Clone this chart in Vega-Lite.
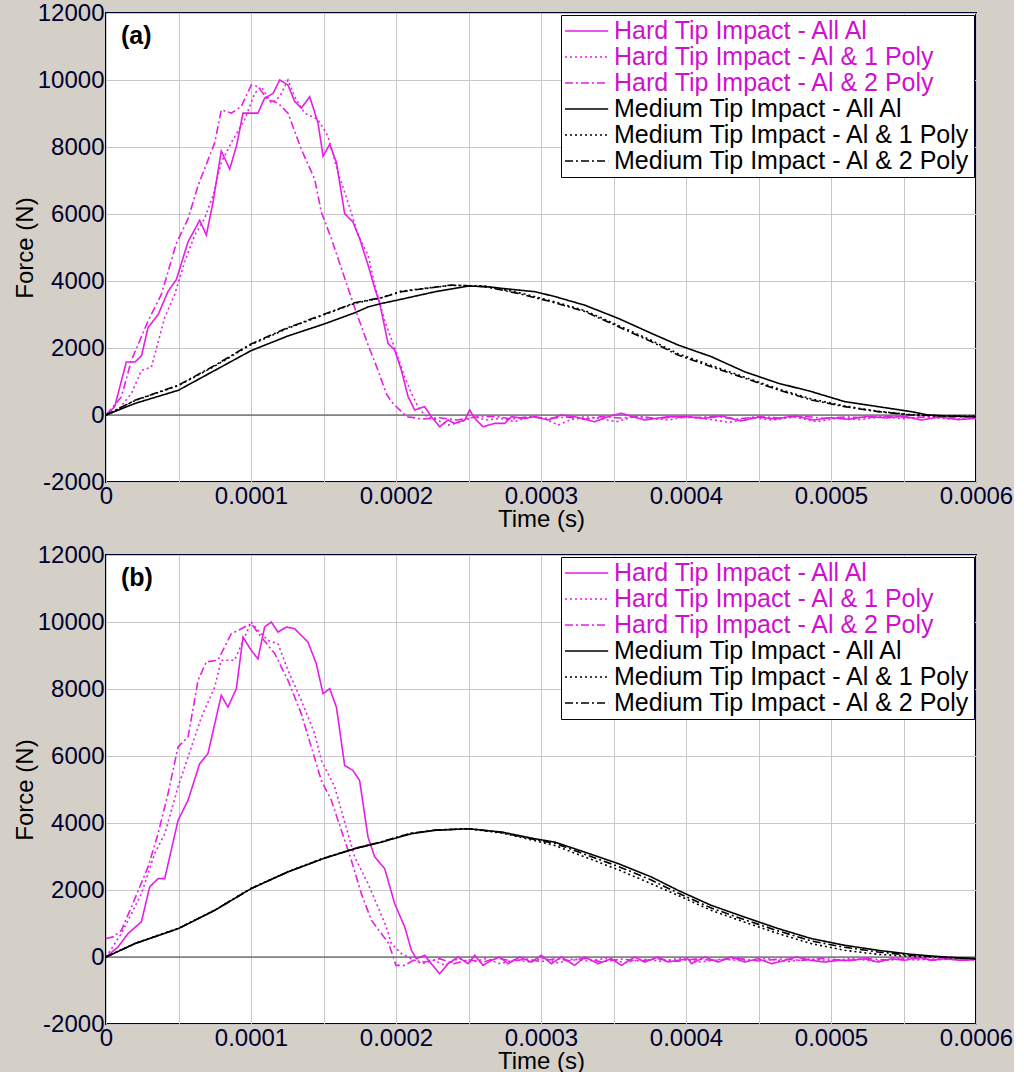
{
"$schema": "https://vega.github.io/schema/vega-lite/v6.json",
"background": "#d4d0c8",
"padding": {"left": 12, "top": 0, "right": 0, "bottom": 0},
"config": {
  "font": "Liberation Sans",
  "view": {"fill": "white", "stroke": "#000030", "strokeWidth": 2},
  "axis": {"labelFontSize": 24, "labelColor": "#000030", "titleFontSize": 24, "titleFontWeight": "normal", "titleColor": "#000000", "ticks": false, "domain": false, "gridColor": "#c8c8c8", "gridWidth": 1, "labelFlush": false, "labelOverlap": false, "labelPadding": 2},
  "legend": {"orient": "top-right", "offset": 2, "title": null, "fillColor": "white", "strokeColor": "#000030", "padding": 3, "symbolType": "M-1,0H2.6", "symbolSize": 576, "symbolStrokeWidth": 1.5, "symbolFillColor": "transparent", "labelFontSize": 25, "labelLimit": 600, "labelOffset": 24, "rowPadding": -1}
},
"datasets": {"d": [
{"p":"a","s":"H1","t":0,"f":0},{"p":"a","s":"H1","t":0.000006,"f":250},{"p":"a","s":"H1","t":0.000014,"f":1580},{"p":"a","s":"H1","t":0.00002,"f":1580},{"p":"a","s":"H1","t":0.0000245,"f":1770},{"p":"a","s":"H1","t":0.000029,"f":2610},{"p":"a","s":"H1","t":0.000036,"f":3000},{"p":"a","s":"H1","t":0.0000428,"f":3690},{"p":"a","s":"H1","t":0.0000485,"f":4040},{"p":"a","s":"H1","t":0.0000566,"f":5170},{"p":"a","s":"H1","t":0.0000646,"f":5810},{"p":"a","s":"H1","t":0.0000692,"f":5370},{"p":"a","s":"H1","t":0.0000738,"f":6350},{"p":"a","s":"H1","t":0.0000795,"f":7880},{"p":"a","s":"H1","t":0.0000853,"f":7340},{"p":"a","s":"H1","t":0.00009,"f":8030},{"p":"a","s":"H1","t":0.0000945,"f":9010},{"p":"a","s":"H1","t":0.0001048,"f":9010},{"p":"a","s":"H1","t":0.0001094,"f":9460},{"p":"a","s":"H1","t":0.0001152,"f":9600},{"p":"a","s":"H1","t":0.0001198,"f":10000},{"p":"a","s":"H1","t":0.0001255,"f":9850},{"p":"a","s":"H1","t":0.0001301,"f":9360},{"p":"a","s":"H1","t":0.0001347,"f":9160},{"p":"a","s":"H1","t":0.0001405,"f":9500},{"p":"a","s":"H1","t":0.0001462,"f":8720},{"p":"a","s":"H1","t":0.0001497,"f":7730},{"p":"a","s":"H1","t":0.0001543,"f":8080},{"p":"a","s":"H1","t":0.0001589,"f":7540},{"p":"a","s":"H1","t":0.0001646,"f":6010},{"p":"a","s":"H1","t":0.0001703,"f":5760},{"p":"a","s":"H1","t":0.0001749,"f":5270},{"p":"a","s":"H1","t":0.0001807,"f":4480},{"p":"a","s":"H1","t":0.0001853,"f":3790},{"p":"a","s":"H1","t":0.0001888,"f":3330},{"p":"a","s":"H1","t":0.0001945,"f":2140},{"p":"a","s":"H1","t":0.0001991,"f":1940},{"p":"a","s":"H1","t":0.0002037,"f":1340},{"p":"a","s":"H1","t":0.0002083,"f":550},{"p":"a","s":"H1","t":0.0002129,"f":150},{"p":"a","s":"H1","t":0.0002198,"f":250},{"p":"a","s":"H1","t":0.0002244,"f":-50},{"p":"a","s":"H1","t":0.0002301,"f":-350},{"p":"a","s":"H1","t":0.0002359,"f":-150},{"p":"a","s":"H1","t":0.0002405,"f":-250},{"p":"a","s":"H1","t":0.0002474,"f":-150},{"p":"a","s":"H1","t":0.0002508,"f":150},{"p":"a","s":"H1","t":0.0002543,"f":-100},{"p":"a","s":"H1","t":0.00026,"f":-350},{"p":"a","s":"H1","t":0.0002681,"f":-250},{"p":"a","s":"H1","t":0.000275,"f":-250},{"p":"a","s":"H1","t":0.0002795,"f":-50},{"p":"a","s":"H1","t":0.0002888,"f":-100},{"p":"a","s":"H1","t":0.0002957,"f":-50},{"p":"a","s":"H1","t":0.0003048,"f":-150},{"p":"a","s":"H1","t":0.000314,"f":0},{"p":"a","s":"H1","t":0.0003232,"f":-50},{"p":"a","s":"H1","t":0.000337,"f":-200},{"p":"a","s":"H1","t":0.0003462,"f":-50},{"p":"a","s":"H1","t":0.0003554,"f":50},{"p":"a","s":"H1","t":0.0003715,"f":-150},{"p":"a","s":"H1","t":0.0003876,"f":-50},{"p":"a","s":"H1","t":0.0004014,"f":-50},{"p":"a","s":"H1","t":0.000412,"f":-100},{"p":"a","s":"H1","t":0.000425,"f":-30},{"p":"a","s":"H1","t":0.000438,"f":-180},{"p":"a","s":"H1","t":0.00045,"f":-60},{"p":"a","s":"H1","t":0.000462,"f":-120},{"p":"a","s":"H1","t":0.000475,"f":-20},{"p":"a","s":"H1","t":0.000488,"f":-150},{"p":"a","s":"H1","t":0.0005,"f":-80},{"p":"a","s":"H1","t":0.000512,"f":-130},{"p":"a","s":"H1","t":0.000525,"f":-40},{"p":"a","s":"H1","t":0.000538,"f":-90},{"p":"a","s":"H1","t":0.00055,"f":-30},{"p":"a","s":"H1","t":0.000562,"f":-150},{"p":"a","s":"H1","t":0.000575,"f":-60},{"p":"a","s":"H1","t":0.000588,"f":-140},{"p":"a","s":"H1","t":0.0006,"f":-100},
{"p":"a","s":"H2","t":0,"f":0},{"p":"a","s":"H2","t":0.0000083,"f":150},{"p":"a","s":"H2","t":0.0000175,"f":640},{"p":"a","s":"H2","t":0.0000244,"f":1330},{"p":"a","s":"H2","t":0.0000313,"f":1430},{"p":"a","s":"H2","t":0.0000405,"f":2910},{"p":"a","s":"H2","t":0.0000474,"f":3600},{"p":"a","s":"H2","t":0.0000543,"f":4580},{"p":"a","s":"H2","t":0.0000612,"f":5370},{"p":"a","s":"H2","t":0.000068,"f":5860},{"p":"a","s":"H2","t":0.0000738,"f":6550},{"p":"a","s":"H2","t":0.0000795,"f":7540},{"p":"a","s":"H2","t":0.0000864,"f":8130},{"p":"a","s":"H2","t":0.0000956,"f":8820},{"p":"a","s":"H2","t":0.0001025,"f":9600},{"p":"a","s":"H2","t":0.0001071,"f":9800},{"p":"a","s":"H2","t":0.000114,"f":9310},{"p":"a","s":"H2","t":0.0001198,"f":9500},{"p":"a","s":"H2","t":0.0001255,"f":10000},{"p":"a","s":"H2","t":0.0001301,"f":9500},{"p":"a","s":"H2","t":0.000137,"f":9010},{"p":"a","s":"H2","t":0.0001462,"f":8820},{"p":"a","s":"H2","t":0.0001531,"f":8320},{"p":"a","s":"H2","t":0.00016,"f":7240},{"p":"a","s":"H2","t":0.0001669,"f":6350},{"p":"a","s":"H2","t":0.0001738,"f":5370},{"p":"a","s":"H2","t":0.0001807,"f":4780},{"p":"a","s":"H2","t":0.0001853,"f":3890},{"p":"a","s":"H2","t":0.0001922,"f":2810},{"p":"a","s":"H2","t":0.0001991,"f":2000},{"p":"a","s":"H2","t":0.000206,"f":1140},{"p":"a","s":"H2","t":0.0002106,"f":650},{"p":"a","s":"H2","t":0.0002152,"f":250},{"p":"a","s":"H2","t":0.0002198,"f":0},{"p":"a","s":"H2","t":0.000228,"f":-150},{"p":"a","s":"H2","t":0.000236,"f":-300},{"p":"a","s":"H2","t":0.000245,"f":-200},{"p":"a","s":"H2","t":0.000254,"f":-50},{"p":"a","s":"H2","t":0.000262,"f":-150},{"p":"a","s":"H2","t":0.000272,"f":-100},{"p":"a","s":"H2","t":0.000282,"f":-200},{"p":"a","s":"H2","t":0.000292,"f":-50},{"p":"a","s":"H2","t":0.000302,"f":-100},{"p":"a","s":"H2","t":0.000312,"f":-300},{"p":"a","s":"H2","t":0.00032,"f":-150},{"p":"a","s":"H2","t":0.00033,"f":-50},{"p":"a","s":"H2","t":0.00034,"f":-100},{"p":"a","s":"H2","t":0.000352,"f":-200},{"p":"a","s":"H2","t":0.000364,"f":-50},{"p":"a","s":"H2","t":0.000376,"f":-100},{"p":"a","s":"H2","t":0.000388,"f":-150},{"p":"a","s":"H2","t":0.0004,"f":-50},{"p":"a","s":"H2","t":0.000415,"f":-120},{"p":"a","s":"H2","t":0.00043,"f":-220},{"p":"a","s":"H2","t":0.000445,"f":-80},{"p":"a","s":"H2","t":0.00046,"f":-150},{"p":"a","s":"H2","t":0.000475,"f":-60},{"p":"a","s":"H2","t":0.00049,"f":-200},{"p":"a","s":"H2","t":0.000505,"f":-90},{"p":"a","s":"H2","t":0.00052,"f":-140},{"p":"a","s":"H2","t":0.000535,"f":-50},{"p":"a","s":"H2","t":0.00055,"f":-110},{"p":"a","s":"H2","t":0.000565,"f":-40},{"p":"a","s":"H2","t":0.00058,"f":-120},{"p":"a","s":"H2","t":0.0006,"f":-80},
{"p":"a","s":"H3","t":0,"f":0},{"p":"a","s":"H3","t":0.0000106,"f":540},{"p":"a","s":"H3","t":0.0000175,"f":1630},{"p":"a","s":"H3","t":0.000029,"f":2810},{"p":"a","s":"H3","t":0.0000382,"f":3600},{"p":"a","s":"H3","t":0.0000485,"f":5120},{"p":"a","s":"H3","t":0.0000566,"f":5860},{"p":"a","s":"H3","t":0.0000635,"f":6850},{"p":"a","s":"H3","t":0.000075,"f":8130},{"p":"a","s":"H3","t":0.0000795,"f":9110},{"p":"a","s":"H3","t":0.0000864,"f":9010},{"p":"a","s":"H3","t":0.0000933,"f":9210},{"p":"a","s":"H3","t":0.0001002,"f":9850},{"p":"a","s":"H3","t":0.0001048,"f":9800},{"p":"a","s":"H3","t":0.0001117,"f":9410},{"p":"a","s":"H3","t":0.0001186,"f":9310},{"p":"a","s":"H3","t":0.0001255,"f":9010},{"p":"a","s":"H3","t":0.0001347,"f":7930},{"p":"a","s":"H3","t":0.0001439,"f":7040},{"p":"a","s":"H3","t":0.0001485,"f":6060},{"p":"a","s":"H3","t":0.0001554,"f":5270},{"p":"a","s":"H3","t":0.0001623,"f":4380},{"p":"a","s":"H3","t":0.0001669,"f":3790},{"p":"a","s":"H3","t":0.0001715,"f":3200},{"p":"a","s":"H3","t":0.0001807,"f":2100},{"p":"a","s":"H3","t":0.0001876,"f":1330},{"p":"a","s":"H3","t":0.0001933,"f":640},{"p":"a","s":"H3","t":0.0001968,"f":400},{"p":"a","s":"H3","t":0.0002037,"f":100},{"p":"a","s":"H3","t":0.000208,"f":-50},{"p":"a","s":"H3","t":0.000218,"f":-120},{"p":"a","s":"H3","t":0.00023,"f":-80},{"p":"a","s":"H3","t":0.000242,"f":-150},{"p":"a","s":"H3","t":0.000255,"f":-60},{"p":"a","s":"H3","t":0.000268,"f":-40},{"p":"a","s":"H3","t":0.00028,"f":-120},{"p":"a","s":"H3","t":0.000292,"f":-50},{"p":"a","s":"H3","t":0.000305,"f":-100},{"p":"a","s":"H3","t":0.000318,"f":-60},{"p":"a","s":"H3","t":0.00033,"f":-130},{"p":"a","s":"H3","t":0.000342,"f":-50},{"p":"a","s":"H3","t":0.000355,"f":-90},{"p":"a","s":"H3","t":0.000368,"f":-40},{"p":"a","s":"H3","t":0.00038,"f":-110},{"p":"a","s":"H3","t":0.000392,"f":-60},{"p":"a","s":"H3","t":0.000405,"f":-80},{"p":"a","s":"H3","t":0.00042,"f":-40},{"p":"a","s":"H3","t":0.000435,"f":-120},{"p":"a","s":"H3","t":0.00045,"f":-50},{"p":"a","s":"H3","t":0.000465,"f":-90},{"p":"a","s":"H3","t":0.00048,"f":-30},{"p":"a","s":"H3","t":0.000495,"f":-100},{"p":"a","s":"H3","t":0.00051,"f":-60},{"p":"a","s":"H3","t":0.000525,"f":-80},{"p":"a","s":"H3","t":0.00054,"f":-30},{"p":"a","s":"H3","t":0.000555,"f":-90},{"p":"a","s":"H3","t":0.00057,"f":-50},{"p":"a","s":"H3","t":0.000585,"f":-70},{"p":"a","s":"H3","t":0.0006,"f":-60},
{"p":"a","s":"M1","t":0,"f":0},{"p":"a","s":"M1","t":0.00002,"f":345},{"p":"a","s":"M1","t":0.00005,"f":740},{"p":"a","s":"M1","t":0.000075,"f":1330},{"p":"a","s":"M1","t":0.0001,"f":1920},{"p":"a","s":"M1","t":0.0001255,"f":2360},{"p":"a","s":"M1","t":0.00015,"f":2710},{"p":"a","s":"M1","t":0.0001715,"f":3050},{"p":"a","s":"M1","t":0.000181,"f":3230},{"p":"a","s":"M1","t":0.00019,"f":3330},{"p":"a","s":"M1","t":0.0002,"f":3420},{"p":"a","s":"M1","t":0.000227,"f":3680},{"p":"a","s":"M1","t":0.00025,"f":3850},{"p":"a","s":"M1","t":0.000263,"f":3830},{"p":"a","s":"M1","t":0.000273,"f":3780},{"p":"a","s":"M1","t":0.000296,"f":3680},{"p":"a","s":"M1","t":0.00031,"f":3530},{"p":"a","s":"M1","t":0.00033,"f":3280},{"p":"a","s":"M1","t":0.000353,"f":2890},{"p":"a","s":"M1","t":0.000376,"f":2440},{"p":"a","s":"M1","t":0.0003945,"f":2090},{"p":"a","s":"M1","t":0.0004175,"f":1740},{"p":"a","s":"M1","t":0.0004405,"f":1290},{"p":"a","s":"M1","t":0.0004635,"f":950},{"p":"a","s":"M1","t":0.0004864,"f":700},{"p":"a","s":"M1","t":0.0005094,"f":400},{"p":"a","s":"M1","t":0.0005324,"f":250},{"p":"a","s":"M1","t":0.0005554,"f":100},{"p":"a","s":"M1","t":0.000567,"f":0},{"p":"a","s":"M1","t":0.00058,"f":-30},{"p":"a","s":"M1","t":0.0006,"f":-50},
{"p":"a","s":"M2","t":0,"f":0},{"p":"a","s":"M2","t":0.00002,"f":430},{"p":"a","s":"M2","t":0.00005,"f":880},{"p":"a","s":"M2","t":0.000075,"f":1460},{"p":"a","s":"M2","t":0.0001,"f":2100},{"p":"a","s":"M2","t":0.0001255,"f":2590},{"p":"a","s":"M2","t":0.00015,"f":2990},{"p":"a","s":"M2","t":0.0001715,"f":3330},{"p":"a","s":"M2","t":0.00019,"f":3500},{"p":"a","s":"M2","t":0.0002037,"f":3700},{"p":"a","s":"M2","t":0.000238,"f":3870},{"p":"a","s":"M2","t":0.000261,"f":3850},{"p":"a","s":"M2","t":0.000284,"f":3660},{"p":"a","s":"M2","t":0.000307,"f":3410},{"p":"a","s":"M2","t":0.00033,"f":3120},{"p":"a","s":"M2","t":0.000353,"f":2680},{"p":"a","s":"M2","t":0.000376,"f":2230},{"p":"a","s":"M2","t":0.0003945,"f":1830},{"p":"a","s":"M2","t":0.0004175,"f":1480},{"p":"a","s":"M2","t":0.0004405,"f":1130},{"p":"a","s":"M2","t":0.0004635,"f":780},{"p":"a","s":"M2","t":0.0004864,"f":480},{"p":"a","s":"M2","t":0.0005094,"f":270},{"p":"a","s":"M2","t":0.0005324,"f":110},{"p":"a","s":"M2","t":0.0005554,"f":10},{"p":"a","s":"M2","t":0.00058,"f":-30},{"p":"a","s":"M2","t":0.0006,"f":-40},
{"p":"a","s":"M3","t":0,"f":0},{"p":"a","s":"M3","t":0.00002,"f":440},{"p":"a","s":"M3","t":0.00005,"f":890},{"p":"a","s":"M3","t":0.000075,"f":1480},{"p":"a","s":"M3","t":0.0001,"f":2120},{"p":"a","s":"M3","t":0.0001255,"f":2610},{"p":"a","s":"M3","t":0.00015,"f":3000},{"p":"a","s":"M3","t":0.0001715,"f":3350},{"p":"a","s":"M3","t":0.000181,"f":3430},{"p":"a","s":"M3","t":0.00019,"f":3500},{"p":"a","s":"M3","t":0.0002037,"f":3680},{"p":"a","s":"M3","t":0.0002382,"f":3880},{"p":"a","s":"M3","t":0.0002612,"f":3830},{"p":"a","s":"M3","t":0.0002842,"f":3630},{"p":"a","s":"M3","t":0.0003071,"f":3380},{"p":"a","s":"M3","t":0.0003302,"f":3090},{"p":"a","s":"M3","t":0.0003531,"f":2640},{"p":"a","s":"M3","t":0.0003761,"f":2190},{"p":"a","s":"M3","t":0.0003945,"f":1790},{"p":"a","s":"M3","t":0.0004175,"f":1440},{"p":"a","s":"M3","t":0.0004405,"f":1100},{"p":"a","s":"M3","t":0.0004635,"f":750},{"p":"a","s":"M3","t":0.0004864,"f":450},{"p":"a","s":"M3","t":0.0005094,"f":250},{"p":"a","s":"M3","t":0.0005324,"f":100},{"p":"a","s":"M3","t":0.0005554,"f":0},{"p":"a","s":"M3","t":0.00058,"f":-30},{"p":"a","s":"M3","t":0.0006,"f":-40},
{"p":"b","s":"H1","t":0,"f":0},{"p":"b","s":"H1","t":0.0000083,"f":300},{"p":"b","s":"H1","t":0.0000152,"f":700},{"p":"b","s":"H1","t":0.0000244,"f":1050},{"p":"b","s":"H1","t":0.0000301,"f":2090},{"p":"b","s":"H1","t":0.0000359,"f":2340},{"p":"b","s":"H1","t":0.0000405,"f":2340},{"p":"b","s":"H1","t":0.0000497,"f":4080},{"p":"b","s":"H1","t":0.0000566,"f":4680},{"p":"b","s":"H1","t":0.0000646,"f":5770},{"p":"b","s":"H1","t":0.0000703,"f":6070},{"p":"b","s":"H1","t":0.0000795,"f":7810},{"p":"b","s":"H1","t":0.0000841,"f":7460},{"p":"b","s":"H1","t":0.0000899,"f":8010},{"p":"b","s":"H1","t":0.0000945,"f":9550},{"p":"b","s":"H1","t":0.0001002,"f":9150},{"p":"b","s":"H1","t":0.0001048,"f":8900},{"p":"b","s":"H1","t":0.0001094,"f":9850},{"p":"b","s":"H1","t":0.000114,"f":10000},{"p":"b","s":"H1","t":0.0001186,"f":9700},{"p":"b","s":"H1","t":0.0001244,"f":9850},{"p":"b","s":"H1","t":0.0001301,"f":9800},{"p":"b","s":"H1","t":0.0001393,"f":9400},{"p":"b","s":"H1","t":0.000145,"f":8760},{"p":"b","s":"H1","t":0.0001497,"f":7860},{"p":"b","s":"H1","t":0.0001543,"f":8010},{"p":"b","s":"H1","t":0.0001589,"f":7460},{"p":"b","s":"H1","t":0.0001646,"f":5720},{"p":"b","s":"H1","t":0.0001703,"f":5570},{"p":"b","s":"H1","t":0.0001749,"f":5270},{"p":"b","s":"H1","t":0.0001807,"f":3580},{"p":"b","s":"H1","t":0.0001853,"f":2990},{"p":"b","s":"H1","t":0.0001922,"f":2640},{"p":"b","s":"H1","t":0.0001991,"f":1590},{"p":"b","s":"H1","t":0.000206,"f":900},{"p":"b","s":"H1","t":0.0002106,"f":200},{"p":"b","s":"H1","t":0.000214,"f":-50},{"p":"b","s":"H1","t":0.0002198,"f":50},{"p":"b","s":"H1","t":0.0002244,"f":-200},{"p":"b","s":"H1","t":0.0002301,"f":-500},{"p":"b","s":"H1","t":0.0002359,"f":-200},{"p":"b","s":"H1","t":0.0002428,"f":0},{"p":"b","s":"H1","t":0.0002497,"f":-200},{"p":"b","s":"H1","t":0.0002543,"f":50},{"p":"b","s":"H1","t":0.00026,"f":-250},{"p":"b","s":"H1","t":0.0002658,"f":-100},{"p":"b","s":"H1","t":0.0002715,"f":0},{"p":"b","s":"H1","t":0.0002773,"f":-200},{"p":"b","s":"H1","t":0.0002853,"f":0},{"p":"b","s":"H1","t":0.0002933,"f":-150},{"p":"b","s":"H1","t":0.0003002,"f":50},{"p":"b","s":"H1","t":0.0003071,"f":-200},{"p":"b","s":"H1","t":0.000314,"f":0},{"p":"b","s":"H1","t":0.0003232,"f":-250},{"p":"b","s":"H1","t":0.0003301,"f":0},{"p":"b","s":"H1","t":0.0003393,"f":-200},{"p":"b","s":"H1","t":0.0003485,"f":-50},{"p":"b","s":"H1","t":0.0003554,"f":-250},{"p":"b","s":"H1","t":0.0003646,"f":0},{"p":"b","s":"H1","t":0.0003715,"f":-150},{"p":"b","s":"H1","t":0.0003807,"f":0},{"p":"b","s":"H1","t":0.0003876,"f":-150},{"p":"b","s":"H1","t":0.0004014,"f":-50},{"p":"b","s":"H1","t":0.0004037,"f":-200},{"p":"b","s":"H1","t":0.0004129,"f":0},{"p":"b","s":"H1","t":0.0004221,"f":-150},{"p":"b","s":"H1","t":0.0004313,"f":0},{"p":"b","s":"H1","t":0.0004405,"f":-150},{"p":"b","s":"H1","t":0.0004497,"f":-50},{"p":"b","s":"H1","t":0.0004589,"f":-200},{"p":"b","s":"H1","t":0.0004681,"f":-100},{"p":"b","s":"H1","t":0.0004761,"f":0},{"p":"b","s":"H1","t":0.0004864,"f":-100},{"p":"b","s":"H1","t":0.0004957,"f":-150},{"p":"b","s":"H1","t":0.0005049,"f":-100},{"p":"b","s":"H1","t":0.000514,"f":-100},{"p":"b","s":"H1","t":0.0005232,"f":-50},{"p":"b","s":"H1","t":0.0005324,"f":-150},{"p":"b","s":"H1","t":0.0005416,"f":-50},{"p":"b","s":"H1","t":0.0005508,"f":-100},{"p":"b","s":"H1","t":0.00056,"f":0},{"p":"b","s":"H1","t":0.0005692,"f":-100},{"p":"b","s":"H1","t":0.0005784,"f":-50},{"p":"b","s":"H1","t":0.0005899,"f":-100},{"p":"b","s":"H1","t":0.0006,"f":-80},
{"p":"b","s":"H2","t":0,"f":0},{"p":"b","s":"H2","t":0.0000106,"f":700},{"p":"b","s":"H2","t":0.0000175,"f":1290},{"p":"b","s":"H2","t":0.0000244,"f":1890},{"p":"b","s":"H2","t":0.0000336,"f":3090},{"p":"b","s":"H2","t":0.0000405,"f":3680},{"p":"b","s":"H2","t":0.0000497,"f":5080},{"p":"b","s":"H2","t":0.0000566,"f":5970},{"p":"b","s":"H2","t":0.0000658,"f":7160},{"p":"b","s":"H2","t":0.000075,"f":8060},{"p":"b","s":"H2","t":0.0000795,"f":8860},{"p":"b","s":"H2","t":0.0000887,"f":8860},{"p":"b","s":"H2","t":0.0000956,"f":9550},{"p":"b","s":"H2","t":0.0001002,"f":10000},{"p":"b","s":"H2","t":0.0001048,"f":9750},{"p":"b","s":"H2","t":0.0001117,"f":9450},{"p":"b","s":"H2","t":0.0001186,"f":9350},{"p":"b","s":"H2","t":0.0001255,"f":8560},{"p":"b","s":"H2","t":0.0001347,"f":7660},{"p":"b","s":"H2","t":0.0001439,"f":6670},{"p":"b","s":"H2","t":0.0001485,"f":5870},{"p":"b","s":"H2","t":0.0001577,"f":5080},{"p":"b","s":"H2","t":0.0001669,"f":3680},{"p":"b","s":"H2","t":0.0001715,"f":2990},{"p":"b","s":"H2","t":0.0001807,"f":2190},{"p":"b","s":"H2","t":0.0001876,"f":1490},{"p":"b","s":"H2","t":0.0001933,"f":900},{"p":"b","s":"H2","t":0.0001968,"f":400},{"p":"b","s":"H2","t":0.0002037,"f":100},{"p":"b","s":"H2","t":0.0002106,"f":-50},{"p":"b","s":"H2","t":0.000218,"f":-200},{"p":"b","s":"H2","t":0.000226,"f":-100},{"p":"b","s":"H2","t":0.000234,"f":-250},{"p":"b","s":"H2","t":0.000243,"f":-50},{"p":"b","s":"H2","t":0.000252,"f":-150},{"p":"b","s":"H2","t":0.000262,"f":-50},{"p":"b","s":"H2","t":0.000272,"f":-200},{"p":"b","s":"H2","t":0.000282,"f":-80},{"p":"b","s":"H2","t":0.000292,"f":-150},{"p":"b","s":"H2","t":0.000302,"f":-30},{"p":"b","s":"H2","t":0.000312,"f":-180},{"p":"b","s":"H2","t":0.000322,"f":-60},{"p":"b","s":"H2","t":0.000332,"f":-120},{"p":"b","s":"H2","t":0.000345,"f":-40},{"p":"b","s":"H2","t":0.000358,"f":-170},{"p":"b","s":"H2","t":0.00037,"f":-60},{"p":"b","s":"H2","t":0.000383,"f":-130},{"p":"b","s":"H2","t":0.000396,"f":-40},{"p":"b","s":"H2","t":0.00041,"f":-150},{"p":"b","s":"H2","t":0.000425,"f":-60},{"p":"b","s":"H2","t":0.00044,"f":-120},{"p":"b","s":"H2","t":0.000455,"f":-40},{"p":"b","s":"H2","t":0.00047,"f":-140},{"p":"b","s":"H2","t":0.000485,"f":-60},{"p":"b","s":"H2","t":0.0005,"f":-110},{"p":"b","s":"H2","t":0.000515,"f":-40},{"p":"b","s":"H2","t":0.00053,"f":-130},{"p":"b","s":"H2","t":0.000545,"f":-60},{"p":"b","s":"H2","t":0.00056,"f":-90},{"p":"b","s":"H2","t":0.000575,"f":-40},{"p":"b","s":"H2","t":0.00059,"f":-100},{"p":"b","s":"H2","t":0.0006,"f":-70},
{"p":"b","s":"H3","t":0,"f":550},{"p":"b","s":"H3","t":0.0000048,"f":600},{"p":"b","s":"H3","t":0.0000106,"f":800},{"p":"b","s":"H3","t":0.0000175,"f":1490},{"p":"b","s":"H3","t":0.000029,"f":2690},{"p":"b","s":"H3","t":0.0000359,"f":3680},{"p":"b","s":"H3","t":0.0000428,"f":4880},{"p":"b","s":"H3","t":0.0000497,"f":6270},{"p":"b","s":"H3","t":0.0000566,"f":6570},{"p":"b","s":"H3","t":0.0000635,"f":8260},{"p":"b","s":"H3","t":0.0000692,"f":8810},{"p":"b","s":"H3","t":0.0000772,"f":8860},{"p":"b","s":"H3","t":0.0000864,"f":9650},{"p":"b","s":"H3","t":0.0000933,"f":9800},{"p":"b","s":"H3","t":0.0001002,"f":9950},{"p":"b","s":"H3","t":0.0001071,"f":9550},{"p":"b","s":"H3","t":0.0001163,"f":9060},{"p":"b","s":"H3","t":0.0001255,"f":8260},{"p":"b","s":"H3","t":0.0001347,"f":7260},{"p":"b","s":"H3","t":0.0001416,"f":6270},{"p":"b","s":"H3","t":0.0001485,"f":5270},{"p":"b","s":"H3","t":0.0001554,"f":4680},{"p":"b","s":"H3","t":0.0001623,"f":3780},{"p":"b","s":"H3","t":0.0001692,"f":2890},{"p":"b","s":"H3","t":0.0001761,"f":1890},{"p":"b","s":"H3","t":0.000183,"f":1100},{"p":"b","s":"H3","t":0.0001899,"f":700},{"p":"b","s":"H3","t":0.000195,"f":400},{"p":"b","s":"H3","t":0.0002,"f":-250},{"p":"b","s":"H3","t":0.000206,"f":-250},{"p":"b","s":"H3","t":0.000212,"f":-100},{"p":"b","s":"H3","t":0.00022,"f":-150},{"p":"b","s":"H3","t":0.00023,"f":-50},{"p":"b","s":"H3","t":0.00024,"f":-200},{"p":"b","s":"H3","t":0.00025,"f":-80},{"p":"b","s":"H3","t":0.00026,"f":-150},{"p":"b","s":"H3","t":0.00027,"f":-30},{"p":"b","s":"H3","t":0.00028,"f":-130},{"p":"b","s":"H3","t":0.00029,"f":-60},{"p":"b","s":"H3","t":0.0003,"f":-140},{"p":"b","s":"H3","t":0.00031,"f":-50},{"p":"b","s":"H3","t":0.00032,"f":-110},{"p":"b","s":"H3","t":0.00033,"f":-40},{"p":"b","s":"H3","t":0.000342,"f":-150},{"p":"b","s":"H3","t":0.000355,"f":-60},{"p":"b","s":"H3","t":0.000368,"f":-120},{"p":"b","s":"H3","t":0.00038,"f":-50},{"p":"b","s":"H3","t":0.000393,"f":-130},{"p":"b","s":"H3","t":0.000406,"f":-60},{"p":"b","s":"H3","t":0.00042,"f":-100},{"p":"b","s":"H3","t":0.000435,"f":-40},{"p":"b","s":"H3","t":0.00045,"f":-120},{"p":"b","s":"H3","t":0.000465,"f":-60},{"p":"b","s":"H3","t":0.00048,"f":-100},{"p":"b","s":"H3","t":0.000495,"f":-40},{"p":"b","s":"H3","t":0.00051,"f":-110},{"p":"b","s":"H3","t":0.000525,"f":-50},{"p":"b","s":"H3","t":0.00054,"f":-90},{"p":"b","s":"H3","t":0.000555,"f":-40},{"p":"b","s":"H3","t":0.00057,"f":-90},{"p":"b","s":"H3","t":0.000585,"f":-60},{"p":"b","s":"H3","t":0.0006,"f":-70},
{"p":"b","s":"M1","t":0,"f":0},{"p":"b","s":"M1","t":0.00002,"f":400},{"p":"b","s":"M1","t":0.00005,"f":850},{"p":"b","s":"M1","t":0.000075,"f":1390},{"p":"b","s":"M1","t":0.0001,"f":2040},{"p":"b","s":"M1","t":0.0001255,"f":2540},{"p":"b","s":"M1","t":0.00015,"f":2940},{"p":"b","s":"M1","t":0.0001715,"f":3230},{"p":"b","s":"M1","t":0.00019,"f":3430},{"p":"b","s":"M1","t":0.0002106,"f":3680},{"p":"b","s":"M1","t":0.0002267,"f":3780},{"p":"b","s":"M1","t":0.0002497,"f":3830},{"p":"b","s":"M1","t":0.0002727,"f":3730},{"p":"b","s":"M1","t":0.0002957,"f":3530},{"p":"b","s":"M1","t":0.0003095,"f":3430},{"p":"b","s":"M1","t":0.0003302,"f":3130},{"p":"b","s":"M1","t":0.0003531,"f":2790},{"p":"b","s":"M1","t":0.0003761,"f":2390},{"p":"b","s":"M1","t":0.0003945,"f":1990},{"p":"b","s":"M1","t":0.0004175,"f":1540},{"p":"b","s":"M1","t":0.0004405,"f":1190},{"p":"b","s":"M1","t":0.0004635,"f":850},{"p":"b","s":"M1","t":0.0004864,"f":550},{"p":"b","s":"M1","t":0.0005094,"f":350},{"p":"b","s":"M1","t":0.0005324,"f":200},{"p":"b","s":"M1","t":0.0005554,"f":80},{"p":"b","s":"M1","t":0.000578,"f":0},{"p":"b","s":"M1","t":0.0006,"f":-50},
{"p":"b","s":"M2","t":0,"f":0},{"p":"b","s":"M2","t":0.00002,"f":410},{"p":"b","s":"M2","t":0.00005,"f":860},{"p":"b","s":"M2","t":0.000075,"f":1400},{"p":"b","s":"M2","t":0.0001,"f":2050},{"p":"b","s":"M2","t":0.0001255,"f":2550},{"p":"b","s":"M2","t":0.00015,"f":2950},{"p":"b","s":"M2","t":0.0001715,"f":3240},{"p":"b","s":"M2","t":0.00019,"f":3440},{"p":"b","s":"M2","t":0.00021,"f":3690},{"p":"b","s":"M2","t":0.000227,"f":3790},{"p":"b","s":"M2","t":0.00025,"f":3830},{"p":"b","s":"M2","t":0.000273,"f":3700},{"p":"b","s":"M2","t":0.000296,"f":3470},{"p":"b","s":"M2","t":0.00031,"f":3320},{"p":"b","s":"M2","t":0.00033,"f":2990},{"p":"b","s":"M2","t":0.000353,"f":2610},{"p":"b","s":"M2","t":0.000376,"f":2190},{"p":"b","s":"M2","t":0.0003945,"f":1840},{"p":"b","s":"M2","t":0.0004175,"f":1390},{"p":"b","s":"M2","t":0.0004405,"f":1040},{"p":"b","s":"M2","t":0.0004635,"f":700},{"p":"b","s":"M2","t":0.0004864,"f":400},{"p":"b","s":"M2","t":0.0005094,"f":200},{"p":"b","s":"M2","t":0.0005324,"f":80},{"p":"b","s":"M2","t":0.0005554,"f":20},{"p":"b","s":"M2","t":0.00058,"f":-20},{"p":"b","s":"M2","t":0.0006,"f":-50},
{"p":"b","s":"M3","t":0,"f":0},{"p":"b","s":"M3","t":0.00002,"f":400},{"p":"b","s":"M3","t":0.00005,"f":850},{"p":"b","s":"M3","t":0.000075,"f":1400},{"p":"b","s":"M3","t":0.0001,"f":2040},{"p":"b","s":"M3","t":0.0001255,"f":2540},{"p":"b","s":"M3","t":0.00015,"f":2940},{"p":"b","s":"M3","t":0.0001715,"f":3240},{"p":"b","s":"M3","t":0.00019,"f":3440},{"p":"b","s":"M3","t":0.00021,"f":3690},{"p":"b","s":"M3","t":0.000227,"f":3790},{"p":"b","s":"M3","t":0.00025,"f":3830},{"p":"b","s":"M3","t":0.000273,"f":3720},{"p":"b","s":"M3","t":0.000296,"f":3500},{"p":"b","s":"M3","t":0.00031,"f":3390},{"p":"b","s":"M3","t":0.00033,"f":3070},{"p":"b","s":"M3","t":0.000353,"f":2710},{"p":"b","s":"M3","t":0.000376,"f":2300},{"p":"b","s":"M3","t":0.0003945,"f":1910},{"p":"b","s":"M3","t":0.0004175,"f":1460},{"p":"b","s":"M3","t":0.0004405,"f":1110},{"p":"b","s":"M3","t":0.0004635,"f":780},{"p":"b","s":"M3","t":0.0004864,"f":480},{"p":"b","s":"M3","t":0.0005094,"f":290},{"p":"b","s":"M3","t":0.0005324,"f":150},{"p":"b","s":"M3","t":0.0005554,"f":50},{"p":"b","s":"M3","t":0.00058,"f":-10},{"p":"b","s":"M3","t":0.0006,"f":-50}
]},
"spacing": 10,
"resolve": {"legend": {"color": "independent", "strokeDash": "independent"}},
"vconcat": [
{
 "width": 870, "height": 469,
 "layer": [
  {"data": {"values": [{}]}, "mark": {"type": "rule", "color": "#404040", "strokeWidth": 1}, "encoding": {"y": {"datum": 0, "type": "quantitative", "scale": {"domain": [-2000, 12000], "nice": false}}}},
  {"data": {"name": "d"}, "transform": [{"filter": "datum.p == 'a'"}],
   "mark": {"type": "line", "strokeWidth": 1.6, "clip": true},
   "encoding": {
    "x": {"field": "t", "type": "quantitative", "scale": {"domain": [0, 0.0006], "nice": false},
          "axis": {"title": "Time (s)", "titlePadding": -1, "grid": true, "values": [0,0.00005,0.0001,0.00015,0.0002,0.00025,0.0003,0.00035,0.0004,0.00045,0.0005,0.00055,0.0006],
                   "labelExpr": "datum.value == 0 ? '0' : (round(datum.value * 100000) % 2 == 0 ? format(datum.value, '.4f') : '')"}},
    "y": {"field": "f", "type": "quantitative", "scale": {"domain": [-2000, 12000], "nice": false},
          "axis": {"title": "Force (N)", "titlePadding": 0, "grid": true, "values": [-2000,-1000,0,1000,2000,3000,4000,5000,6000,7000,8000,9000,10000,11000,12000],
                   "labelExpr": "datum.value % 2000 == 0 ? ('' + datum.value) : ''"}},
    "color": {"field": "s", "type": "nominal", "scale": {"domain": ["H1","H2","H3","M1","M2","M3"], "range": ["#e61ee6","#e61ee6","#e61ee6","#000000","#000000","#000000"]},
      "legend": {
        "labelExpr": "{'H1':'Hard Tip Impact - All Al','H2':'Hard Tip Impact - Al & 1 Poly','H3':'Hard Tip Impact - Al & 2 Poly','M1':'Medium Tip Impact - All Al','M2':'Medium Tip Impact - Al & 1 Poly','M3':'Medium Tip Impact - Al & 2 Poly'}[datum.label]",
        "labelColor": {"expr": "indexof(datum.label, 'H') == 0 ? '#d010d0' : '#000000'"}}},
    "strokeDash": {"field": "s", "type": "nominal", "scale": {"domain": ["H1","H2","H3","M1","M2","M3"], "range": [[1,0],[2,3],[8,3,2,3],[1,0],[2,3],[8,3,2,3]]},
      "legend": {
        "labelExpr": "{'H1':'Hard Tip Impact - All Al','H2':'Hard Tip Impact - Al & 1 Poly','H3':'Hard Tip Impact - Al & 2 Poly','M1':'Medium Tip Impact - All Al','M2':'Medium Tip Impact - Al & 1 Poly','M3':'Medium Tip Impact - Al & 2 Poly'}[datum.label]",
        "labelColor": {"expr": "indexof(datum.label, 'H') == 0 ? '#d010d0' : '#000000'"}}}
   }},
  {"data": {"values": [{}]}, "mark": {"type": "text", "text": "(a)", "fontWeight": "bold", "fontSize": 25, "align": "left", "baseline": "middle"},
   "encoding": {"x": {"datum": 0.0000103, "type": "quantitative"}, "y": {"datum": 11300, "type": "quantitative"}}}
 ]
},
{
 "width": 870, "height": 469,
 "layer": [
  {"data": {"values": [{}]}, "mark": {"type": "rule", "color": "#404040", "strokeWidth": 1}, "encoding": {"y": {"datum": 0, "type": "quantitative", "scale": {"domain": [-2000, 12000], "nice": false}}}},
  {"data": {"name": "d"}, "transform": [{"filter": "datum.p == 'b'"}],
   "mark": {"type": "line", "strokeWidth": 1.6, "clip": true},
   "encoding": {
    "x": {"field": "t", "type": "quantitative", "scale": {"domain": [0, 0.0006], "nice": false},
          "axis": {"title": "Time (s)", "titlePadding": -1, "grid": true, "values": [0,0.00005,0.0001,0.00015,0.0002,0.00025,0.0003,0.00035,0.0004,0.00045,0.0005,0.00055,0.0006],
                   "labelExpr": "datum.value == 0 ? '0' : (round(datum.value * 100000) % 2 == 0 ? format(datum.value, '.4f') : '')"}},
    "y": {"field": "f", "type": "quantitative", "scale": {"domain": [-2000, 12000], "nice": false},
          "axis": {"title": "Force (N)", "titlePadding": 0, "grid": true, "values": [-2000,-1000,0,1000,2000,3000,4000,5000,6000,7000,8000,9000,10000,11000,12000],
                   "labelExpr": "datum.value % 2000 == 0 ? ('' + datum.value) : ''"}},
    "color": {"field": "s", "type": "nominal", "scale": {"domain": ["H1","H2","H3","M1","M2","M3"], "range": ["#e61ee6","#e61ee6","#e61ee6","#000000","#000000","#000000"]},
      "legend": {
        "labelExpr": "{'H1':'Hard Tip Impact - All Al','H2':'Hard Tip Impact - Al & 1 Poly','H3':'Hard Tip Impact - Al & 2 Poly','M1':'Medium Tip Impact - All Al','M2':'Medium Tip Impact - Al & 1 Poly','M3':'Medium Tip Impact - Al & 2 Poly'}[datum.label]",
        "labelColor": {"expr": "indexof(datum.label, 'H') == 0 ? '#d010d0' : '#000000'"}}},
    "strokeDash": {"field": "s", "type": "nominal", "scale": {"domain": ["H1","H2","H3","M1","M2","M3"], "range": [[1,0],[2,3],[8,3,2,3],[1,0],[2,3],[8,3,2,3]]},
      "legend": {
        "labelExpr": "{'H1':'Hard Tip Impact - All Al','H2':'Hard Tip Impact - Al & 1 Poly','H3':'Hard Tip Impact - Al & 2 Poly','M1':'Medium Tip Impact - All Al','M2':'Medium Tip Impact - Al & 1 Poly','M3':'Medium Tip Impact - Al & 2 Poly'}[datum.label]",
        "labelColor": {"expr": "indexof(datum.label, 'H') == 0 ? '#d010d0' : '#000000'"}}}
   }},
  {"data": {"values": [{}]}, "mark": {"type": "text", "text": "(b)", "fontWeight": "bold", "fontSize": 25, "align": "left", "baseline": "middle"},
   "encoding": {"x": {"datum": 0.0000103, "type": "quantitative"}, "y": {"datum": 11300, "type": "quantitative"}}}
 ]
}
]
}
